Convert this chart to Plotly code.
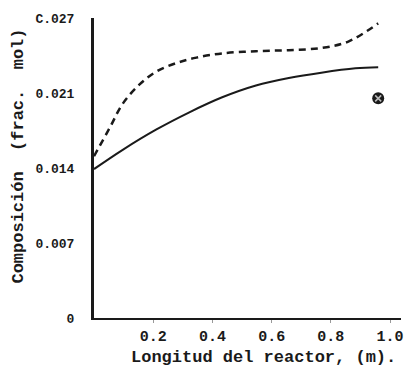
import plotly.graph_objects as go

x_solid = [0.0, 0.097, 0.211, 0.322, 0.433, 0.547, 0.658, 0.768, 0.883, 0.96]
y_solid = [0.0139, 0.0157, 0.0176, 0.0192, 0.0206, 0.0217, 0.0224, 0.0229, 0.0233, 0.0234]

x_dash = [0.0, 0.054, 0.097, 0.154, 0.211, 0.279, 0.346, 0.433, 0.547, 0.658, 0.768, 0.859, 0.96]
y_dash = [0.0151, 0.0178, 0.0200, 0.0218, 0.0230, 0.0238, 0.0243, 0.0247, 0.0249, 0.0250, 0.0252, 0.0258, 0.0275]

x_point = [0.96]
y_point = [0.0205]

x_ticks = [0.2, 0.4, 0.6, 0.8, 1.0]
x_ticktext = ["0.2", "0.4", "0.6", "0.8", "1.0"]
y_ticks = [0, 0.007, 0.014, 0.021, 0.028]
y_ticktext = ["0", "0.007", "0.014", "0.021", "C.027"]

x_title = "Longitud del reactor, (m)."
y_title = "Composición  (frac.  mol)"

FONT = "Liberation Mono"
INK = "#1a1a1a"

fig = go.Figure()
fig.add_trace(go.Scatter(x=x_solid, y=y_solid, mode="lines", line=dict(color=INK, width=2, shape="spline"), showlegend=False))
fig.add_trace(go.Scatter(x=x_dash, y=y_dash, mode="lines", line=dict(color=INK, width=2.5, dash="7px,5px", shape="spline"), showlegend=False))
fig.add_trace(go.Scatter(x=x_point, y=y_point, mode="markers", marker=dict(symbol="circle", size=12, color=INK), showlegend=False))
fig.add_trace(go.Scatter(x=x_point, y=y_point, mode="markers", marker=dict(symbol="x-thin", size=6, line=dict(color="#bbbbbb", width=1.5)), showlegend=False))

fig.update_layout(
    width=409, height=377,
    margin=dict(l=94, r=6, t=18, b=59),
    paper_bgcolor="white", plot_bgcolor="white",
    font=dict(family=FONT, color=INK),
    xaxis=dict(
        range=[0, 1.037], tickvals=x_ticks, ticktext=["<b>%s</b>" % t for t in x_ticktext],
        showgrid=False, zeroline=False, showline=True, linecolor=INK, linewidth=2,
        ticks="outside", ticklen=3, tickcolor="#999", ticklabelstandoff=0,
        tickfont=dict(family=FONT, size=15, color=INK),
    ),
    yaxis=dict(
        range=[0, 0.028], tickvals=y_ticks, ticktext=["<b>%s</b>" % t for t in y_ticktext],
        showgrid=False, zeroline=False, showline=True, linecolor=INK, linewidth=3,
        ticks="", ticklabelstandoff=14, tickfont=dict(family=FONT, size=13, color=INK),
    ),
    annotations=[
        dict(text="<b>%s</b>" % x_title, xref="paper", yref="paper", x=0.553, y=-0.133,
             xanchor="center", yanchor="middle", showarrow=False,
             font=dict(family=FONT, size=17, color=INK)),
        dict(text="<b>%s</b>" % y_title, xref="paper", yref="paper", x=-0.249, y=0.54,
             xanchor="center", yanchor="middle", showarrow=False, textangle=-90,
             font=dict(family=FONT, size=17, color=INK)),
    ],
)

fig.write_html("out.html")
